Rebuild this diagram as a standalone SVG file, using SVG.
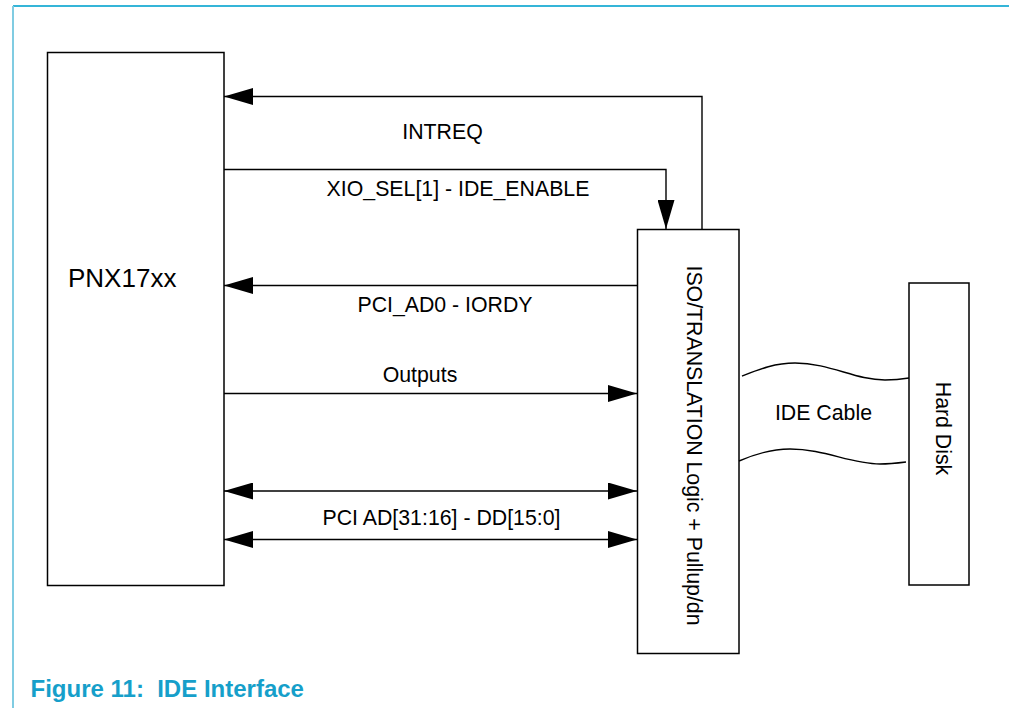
<svg xmlns="http://www.w3.org/2000/svg" width="1009" height="708" viewBox="0 0 1009 708">
<style>
.box{fill:#fff;stroke:#000;stroke-width:1.5}
.ln{fill:none;stroke:#000;stroke-width:1.4}
.t{font-family:"Liberation Sans",Arial,sans-serif;font-size:21.3px;fill:#000}
.cap{font-family:"Liberation Sans",Arial,sans-serif;font-size:24px;font-weight:bold;fill:#169fca;white-space:pre}
</style>
<defs>
<marker id="ah" viewBox="0 0 29 17" refX="29" refY="8.5" markerWidth="29" markerHeight="17" markerUnits="userSpaceOnUse" orient="auto-start-reverse">
<path d="M0,0 L29,8.5 L0,17 Z" fill="#000"/>
</marker>
</defs>
<rect width="1009" height="708" fill="#fff"/>
<g id="frame">
<line x1="13" y1="6" x2="1009" y2="6" stroke="#35b5d8" stroke-width="2"/>
<line x1="13" y1="6" x2="13" y2="708" stroke="#80cce2" stroke-width="2"/>
</g>
<g id="pnx17xx">
<rect class="box" x="47.5" y="52.5" width="176.5" height="533"/>
<text class="t" x="68" y="287" style="font-size:26px">PNX17xx</text>
</g>
<g id="iso">
<rect class="box" x="637.5" y="229.5" width="101.5" height="424"/>
<text class="t" transform="translate(686.5,445.5) rotate(90)" text-anchor="middle">ISO/TRANSLATION Logic + Pullup/dn</text>
</g>
<g id="harddisk">
<rect class="box" x="909" y="283" width="60" height="302"/>
<text class="t" transform="translate(936,428.5) rotate(90)" text-anchor="middle">Hard Disk</text>
</g>
<g id="connectors">
<path class="ln" d="M702,229 V96.5 H224" marker-end="url(#ah)"/>
<path class="ln" d="M224,169.5 H666 V229" marker-end="url(#ah)"/>
<path class="ln" d="M637,285.5 H224" marker-end="url(#ah)"/>
<path class="ln" d="M224,393.5 H637" marker-end="url(#ah)"/>
<path class="ln" d="M224,491 H637" marker-start="url(#ah)" marker-end="url(#ah)"/>
<path class="ln" d="M224,539.5 H637" marker-start="url(#ah)" marker-end="url(#ah)"/>
<path class="ln" d="M742,376 C760,369 775,363 795,363 C830,363 855,380 885,380 C895,380 903,379 909,378"/>
<path class="ln" d="M739,461 C755,454 770,449 790,449 C825,449 850,464 880,464 C890,464 898,463 906,462"/>
</g>
<g id="labels">
<text class="t" x="442.5" y="139" text-anchor="middle">INTREQ</text>
<text class="t" x="458" y="196" text-anchor="middle">XIO_SEL[1] - IDE_ENABLE</text>
<text class="t" x="445" y="312" text-anchor="middle">PCI_AD0 - IORDY</text>
<text class="t" x="420" y="382" text-anchor="middle">Outputs</text>
<text class="t" x="441.5" y="525" text-anchor="middle">PCI AD[31:16] - DD[15:0]</text>
<text class="t" x="823.5" y="419.5" text-anchor="middle">IDE Cable</text>
</g>
<text class="cap" x="30.5" y="697">Figure 11:  IDE Interface</text>
</svg>
